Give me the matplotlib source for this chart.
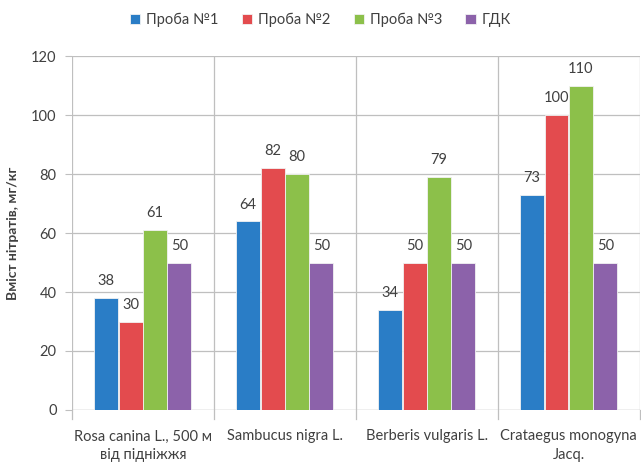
import matplotlib
matplotlib.use("Agg")
import matplotlib.pyplot as plt
import numpy as np

plt.rcParams['font.family'] = ['Lato', 'DejaVu Sans']

categories = ["Rosa canina L., 500 м\nвід підніжжя", "Sambucus nigra L.",
              "Berberis vulgaris L.", "Crataegus monogyna\nJacq."]
series_names = ["Проба №1", "Проба №2", "Проба №3", "ГДК"]
proba1 = [38, 64, 34, 73]
proba2 = [30, 82, 50, 100]
proba3 = [61, 80, 79, 110]
gdk = [50, 50, 50, 50]
yticks = [0, 20, 40, 60, 80, 100, 120]

series = [proba1, proba2, proba3, gdk]
colors = ["#2A7DC6", "#E34B4E", "#8CC04A", "#8C62AA"]
text_color = "#404040"
grid_color = "#BFBFBF"

fig = plt.figure(figsize=(6.41, 4.68), dpi=100)
ax = fig.add_axes([0.112, 0.124, 0.886, 0.756])

x = np.arange(len(categories))
bw = 0.172
offsets = (np.arange(4) - 1.5) * bw
for vals, off, col, name in zip(series, offsets, colors, series_names):
    bars = ax.bar(x + off, vals, width=bw * 0.98, color=col, label=name,
                  edgecolor="#F2F2F2", linewidth=0.6, zorder=3)
    for b, v in zip(bars, vals):
        ax.annotate(str(v), (b.get_x() + b.get_width() / 2, v),
                    xytext=(0, 7), textcoords="offset points",
                    ha="center", va="bottom", fontsize=10.5, color=text_color)

ax.set_xlim(-0.5, len(categories) - 0.5)
ax.set_ylim(0, 120)
ax.set_yticks(yticks)
ax.set_yticklabels([str(t) for t in yticks], fontsize=10.5, color=text_color)

ax.set_xticks(x)
ax.set_xticklabels(categories, fontsize=10.5, color=text_color, linespacing=1.4)
ax.tick_params(axis='x', length=0, pad=14)
ax.tick_params(axis='y', length=5, color=grid_color, pad=6)

# category separators and horizontal grid
for b in np.arange(-0.5, len(categories) + 0.5, 1.0):
    ax.axvline(b, color=grid_color, linewidth=0.9, zorder=1)
    ax.plot([b, b], [0, -3], color=grid_color, linewidth=0.9, clip_on=False)
ax.yaxis.grid(True, color=grid_color, linewidth=0.9, zorder=1)
ax.set_axisbelow(True)
for s in ["top", "right", "left", "bottom"]:
    ax.spines[s].set_visible(False)
ax.axhline(0, color=grid_color, linewidth=0.9, zorder=2)

ax.set_ylabel("Вміст нітратів, мг/кг", fontsize=10, fontweight="bold",
              color=text_color, labelpad=9)

fig.legend(loc="upper center", bbox_to_anchor=(0.5, 1.0), ncol=4,
           frameon=False, fontsize=10.5, handlelength=0.7, handleheight=0.7,
           handletextpad=0.4, columnspacing=1.6, labelcolor=text_color)

fig.savefig("out.png", dpi=100)
